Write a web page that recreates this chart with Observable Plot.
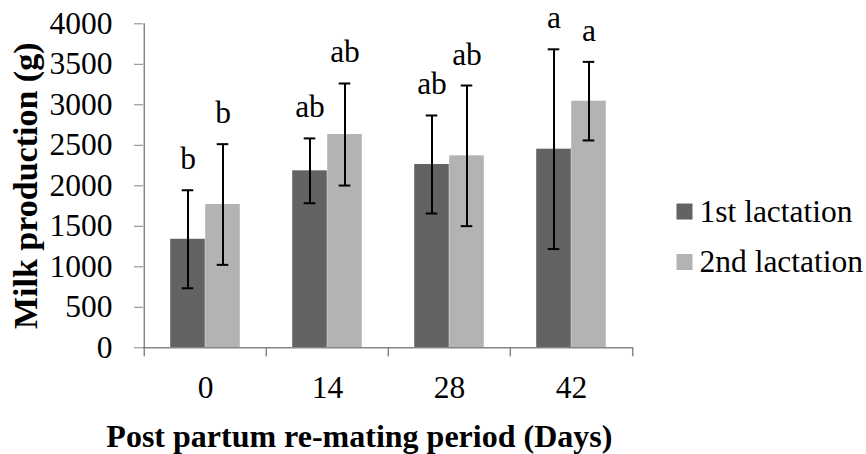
<!DOCTYPE html>
<html>
<head>
<meta charset="utf-8">
<script src="https://cdn.jsdelivr.net/npm/d3@7"></script>
<script src="https://cdn.jsdelivr.net/npm/@observablehq/plot@0.6"></script>
<style>
  html, body { margin: 0; padding: 0; background: #fff; overflow: hidden; }
  #chart svg { display: block; }
</style>
</head>
<body>
<div id="chart"></div>
<script>
// ---- data ----
const periods = ["0", "14", "28", "42"];
const seriesNames = ["1st lactation", "2nd lactation"];
const firstValues = [1340, 2185, 2263, 2452];
const firstErrors = [605, 400, 605, 1233];
const firstLetters = ["b", "ab", "ab", "a"];
const secondValues = [1769, 2633, 2370, 3045];
const secondErrors = [745, 630, 868, 485];
const secondLetters = ["b", "ab", "ab", "a"];
const yTicks = [0, 500, 1000, 1500, 2000, 2500, 3000, 3500, 4000];
const yTitle = "Milk production (g)";
const xTitle = "Post partum re-mating period (Days)";

// ---- layout / style ----
const W = 866, H = 454;
const mL = 143, mR = 233.3, mT = 23.3, mB = 106.7;
const bw = (W - mL - mR) / periods.length;
const barW = 35, capW = 12;
const colors = ["#636363", "#b3b3b3"];
const axisGray = "#868686";
const serif = "'Liberation Serif', 'Times New Roman', serif";
const fs = 31.5;

const rows = [];
periods.forEach((p, i) => {
  rows.push({period: p, s: 0, value: firstValues[i], err: firstErrors[i], letter: firstLetters[i]});
  rows.push({period: p, s: 1, value: secondValues[i], err: secondErrors[i], letter: secondLetters[i]});
});
const bySeries = [0, 1].map(s => rows.filter(r => r.s === s));

const seriesMarks = [0, 1].flatMap(s => {
  const off = s === 0 ? -barW / 2 : barW / 2;        // bar centre offset from band centre
  const centre = bw / 2 + off;                        // from band start
  return [
    Plot.barY(bySeries[s], {
      x: "period", y: "value", fill: colors[s],
      insetLeft: s === 0 ? bw / 2 - barW : bw / 2,
      insetRight: s === 0 ? bw / 2 : bw / 2 - barW
    }),
    Plot.ruleX(bySeries[s], {
      x: "period", y1: d => d.value - d.err, y2: d => d.value + d.err,
      dx: off, stroke: "black", strokeWidth: 2
    }),
    Plot.tickY(bySeries[s], {
      x: "period", y: d => d.value + d.err,
      insetLeft: centre - capW / 2, insetRight: bw - centre - capW / 2,
      stroke: "black", strokeWidth: 2
    }),
    Plot.tickY(bySeries[s], {
      x: "period", y: d => d.value - d.err,
      insetLeft: centre - capW / 2, insetRight: bw - centre - capW / 2,
      stroke: "black", strokeWidth: 2
    }),
    Plot.text(bySeries[s], {
      x: "period", y: d => d.value + d.err, text: "letter",
      dx: off, dy: -21, lineAnchor: "bottom",
      fontSize: fs, fontFamily: serif, fill: "black"
    })
  ];
});

const legendMarks = seriesNames.flatMap((name, i) => [
  Plot.dot([name], {
    frameAnchor: "top-right", dx: 51.3, dy: 187.7 + i * 50.5,
    symbol: "square", r: 9.03, fill: colors[i], stroke: "none"
  }),
  Plot.text([name], {
    text: d => d, frameAnchor: "top-right", dx: 66.3, dy: 198.4 + i * 50,
    textAnchor: "start", lineAnchor: "bottom",
    fontSize: fs, fontFamily: serif, fill: "black"
  })
]);

const chart = Plot.plot({
  width: W, height: H,
  marginLeft: mL, marginRight: mR, marginTop: mT, marginBottom: mB,
  style: {fontFamily: serif, fontSize: fs + "px", color: "black", background: "white", overflow: "visible"},
  x: {type: "band", domain: periods, padding: 0},
  y: {domain: [0, 4000]},
  marks: [
    ...seriesMarks,
    Plot.ruleY([0], {stroke: axisGray, strokeWidth: 1.5}),
    Plot.ruleX([periods[0]], {x: d => d, dx: -bw / 2, y1: 0, y2: 4000, stroke: axisGray, strokeWidth: 1.5}),
    Plot.axisY(yTicks, {
      tickSize: 9, tickPadding: 22, stroke: axisGray, fill: "black",
      fontSize: fs, fontFamily: serif, label: null, tickFormat: d => String(d)
    }),
    Plot.axisX(periods, {
      tickSize: 0, tickPadding: 28, fill: "black",
      fontSize: fs, fontFamily: serif, label: null
    }),
    Plot.axisX(periods, {
      tickSize: 9, dx: -bw / 2, stroke: axisGray, strokeWidth: 1.5,
      tickFormat: () => "", label: null
    }),
    Plot.axisX([periods[periods.length - 1]], {
      tickSize: 9, dx: bw / 2, stroke: axisGray, strokeWidth: 1.5,
      tickFormat: () => "", label: null
    }),
    Plot.text([yTitle], {
      text: d => d, frameAnchor: "left", dx: -106.3, rotate: -90,
      textAnchor: "middle", lineAnchor: "bottom",
      fontSize: 34, fontWeight: "bold", fontFamily: serif, fill: "black"
    }),
    Plot.text([xTitle], {
      text: d => d, frameAnchor: "bottom", dx: -29, dy: 99.4,
      textAnchor: "middle", lineAnchor: "bottom",
      fontSize: 32, fontWeight: "bold", fontFamily: serif, fill: "black"
    }),
    ...legendMarks
  ]
});
document.getElementById("chart").appendChild(chart);
</script>
</body>
</html>
